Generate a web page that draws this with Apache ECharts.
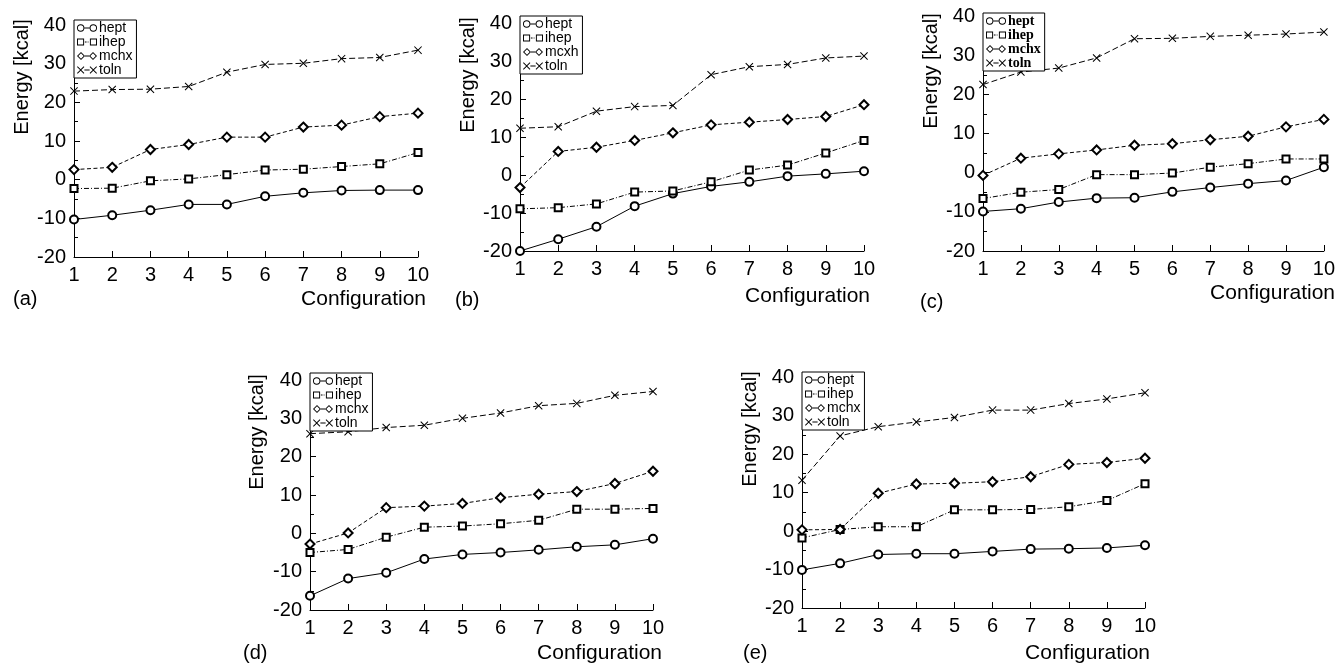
<!DOCTYPE html>
<html>
<head>
<meta charset="utf-8">
<title>Energy vs configuration</title>
<script src="https://cdn.jsdelivr.net/npm/echarts@6.0.0/dist/echarts.min.js"></script>
<style>
  html, body { margin: 0; padding: 0; background: #fff; }
  #chart_container { width: 1338px; height: 665px; }
</style>
</head>
<body>
<div id="chart_container"></div>
<script>
// data
var configurations = [1, 2, 3, 4, 5, 6, 7, 8, 9, 10];
var yTicks = [-20, -10, 0, 10, 20, 30, 40];
var panelLabels = ['(a)', '(b)', '(c)', '(d)', '(e)'];

var a_hept = [-10.3, -9.2, -7.9, -6.4, -6.4, -4.3, -3.4, -2.8, -2.7, -2.7];
var a_ihep = [-2.3, -2.2, -0.3, 0.2, 1.3, 2.5, 2.7, 3.4, 4.1, 7.0];
var a_mchx = [2.6, 3.2, 7.8, 9.1, 11.0, 11.0, 13.6, 14.1, 16.3, 17.2];
var a_toln = [22.9, 23.3, 23.4, 24.1, 27.8, 29.8, 30.1, 31.3, 31.6, 33.5];

var b_hept = [-20, -16.9, -13.6, -8.2, -4.9, -3.0, -1.8, -0.3, 0.3, 1.0];
var b_ihep = [-8.9, -8.6, -7.6, -4.5, -4.2, -1.8, 1.3, 2.6, 5.8, 9.1];
var b_mcxh = [-3.3, 6.2, 7.3, 9.1, 11.1, 13.2, 13.9, 14.6, 15.4, 18.5];
var b_toln = [12.3, 12.7, 16.8, 18.0, 18.3, 26.4, 28.5, 29.1, 30.8, 31.3];

var c_hept = [-9.9, -9.2, -7.5, -6.5, -6.4, -4.9, -3.8, -2.8, -2.0, 1.4];
var c_ihep = [-6.6, -5.0, -4.3, -0.5, -0.5, -0.1, 1.4, 2.3, 3.5, 3.5];
var c_mchx = [-0.7, 3.7, 4.8, 5.8, 7.0, 7.4, 8.4, 9.3, 11.7, 13.6];
var c_toln = [22.5, 25.7, 26.7, 29.3, 34.2, 34.3, 34.8, 35.1, 35.4, 35.9];

var d_hept = [-16.3, -11.8, -10.3, -6.7, -5.5, -5.0, -4.3, -3.5, -3.0, -1.4];
var d_ihep = [-5.0, -4.2, -1.0, 1.6, 1.9, 2.5, 3.4, 6.3, 6.3, 6.5];
var d_mchx = [-2.8, 0.1, 6.7, 7.1, 7.8, 9.3, 10.2, 10.9, 13.0, 16.2];
var d_toln = [26.0, 26.5, 27.6, 28.2, 30.0, 31.4, 33.3, 33.9, 36.0, 37.0];

var e_hept = [-10.1, -8.4, -6.1, -5.9, -5.9, -5.3, -4.7, -4.6, -4.4, -3.7];
var e_ihep = [-1.8, 0.4, 1.1, 1.1, 5.5, 5.5, 5.6, 6.3, 7.9, 12.3];
var e_mchx = [0.3, 0.4, 9.8, 12.2, 12.4, 12.8, 14.1, 17.3, 17.8, 18.9];
var e_toln = [13.2, 24.7, 27.1, 28.3, 29.5, 31.4, 31.4, 33.1, 34.3, 35.9];

var panels = [
    { names: ['hept', 'ihep', 'mchx', 'toln'], values: [a_hept, a_ihep, a_mchx, a_toln] },
    { names: ['hept', 'ihep', 'mcxh', 'toln'], values: [b_hept, b_ihep, b_mcxh, b_toln] },
    { names: ['hept', 'ihep', 'mchx', 'toln'], values: [c_hept, c_ihep, c_mchx, c_toln] },
    { names: ['hept', 'ihep', 'mchx', 'toln'], values: [d_hept, d_ihep, d_mchx, d_toln] },
    { names: ['hept', 'ihep', 'mchx', 'toln'], values: [e_hept, e_ihep, e_mchx, e_toln] }
];

// layout (pixels)
var grids = [
    { left: 74, top: 25, width: 344, height: 232 },
    { left: 520, top: 23, width: 344, height: 228 },
    { left: 983, top: 16, width: 343, height: 235 },
    { left: 310, top: 380, width: 343, height: 230 },
    { left: 802, top: 377, width: 343, height: 231 }
];
var legendTops = [20, 16, 13, 373, 372];
var yNamePos = [[22, 77], [468, 75], [931, 71], [257, 432], [750, 429]];
var xNamePos = [[426, 299], [870, 296], [1335, 293], [662, 653], [1150, 653]];
var letterPos = [[13, 299], [455, 300], [920, 302], [243, 653], [743, 653]];

var FONT = 'Liberation Sans, Arial, Helvetica, sans-serif';
var xMark = 'path://M0,0.9 L0.9,0 L5,4.1 L9.1,0 L10,0.9 L5.9,5 L10,9.1 L9.1,10 L5,5.9 L0.9,10 L0,9.1 L4.1,5 Z';

// legend icons drawn like the plot program: symbol - line - symbol
function ring(cx) {
    return 'M' + (cx - 3.5) + ',4 A3.5,3.5 0 1,1 ' + (cx + 3.5) + ',4 A3.5,3.5 0 1,1 ' + (cx - 3.5) + ',4 Z ' +
        'M' + (cx - 2.6) + ',4 A2.6,2.6 0 1,0 ' + (cx + 2.6) + ',4 A2.6,2.6 0 1,0 ' + (cx - 2.6) + ',4 Z ';
}
function box(cx) {
    return 'M' + (cx - 3.3) + ',0.7 L' + (cx + 3.3) + ',0.7 L' + (cx + 3.3) + ',7.3 L' + (cx - 3.3) + ',7.3 Z ' +
        'M' + (cx - 2.4) + ',1.6 L' + (cx - 2.4) + ',6.4 L' + (cx + 2.4) + ',6.4 L' + (cx + 2.4) + ',1.6 Z ';
}
function diamond(cx) {
    return 'M' + (cx - 4) + ',4 L' + cx + ',0 L' + (cx + 4) + ',4 L' + cx + ',8 Z ' +
        'M' + (cx - 2.7) + ',4 L' + cx + ',6.7 L' + (cx + 2.7) + ',4 L' + cx + ',1.3 Z ';
}
function cross(cx) {
    var l = cx - 3.5, r = cx + 3.5;
    return 'M' + l + ',1.1 L' + (l + 0.6) + ',0.5 L' + cx + ',3.4 L' + (r - 0.6) + ',0.5 L' + r + ',1.1 L' + (cx + 0.6) + ',4 L' +
        r + ',6.9 L' + (r - 0.6) + ',7.5 L' + cx + ',4.6 L' + (l + 0.6) + ',7.5 L' + l + ',6.9 L' + (cx - 0.6) + ',4 Z ';
}
function seg(x0, x1) {
    return 'M' + x0 + ',3.6 L' + x1 + ',3.6 L' + x1 + ',4.4 L' + x0 + ',4.4 Z ';
}
var legendIcons = [
    'path://' + ring(4) + seg(7.5, 12.5) + ring(16),
    'path://' + box(4) + seg(8, 9.6) + seg(10.6, 11.4) + box(16),
    'path://' + diamond(4) + seg(8, 12) + diamond(16),
    'path://' + cross(4) + seg(7.5, 12.5) + cross(16)
];

// one style per molecule: symbol, size, dash
var seriesStyles = [
    { symbol: 'emptyCircle', size: 8, dash: 'solid' },
    { symbol: 'emptyRect', size: 7, dash: [5, 2, 1, 2] },
    { symbol: 'emptyDiamond', size: 9, dash: [4, 2.5] },
    { symbol: xMark, size: 8, dash: [6, 3] }
];

var dom = document.getElementById('chart_container');
var myChart = echarts.init(dom, null, { renderer: 'canvas' });

var xAxes = [], yAxes = [], legends = [], series = [], graphics = [];

grids.forEach(function (g, i) {
    xAxes.push({
        gridIndex: i,
        type: 'value',
        min: 1,
        max: 10,
        interval: 1,
        axisLine: { show: true, onZero: false, lineStyle: { color: '#000', width: 1 } },
        axisTick: { show: true, inside: true, length: 6, lineStyle: { color: '#000' } },
        axisLabel: { color: '#000', fontSize: 20, fontFamily: FONT, margin: 8 },
        splitLine: { show: false }
    });
    yAxes.push({
        gridIndex: i,
        type: 'value',
        min: yTicks[0],
        max: yTicks[yTicks.length - 1],
        interval: 10,
        axisLine: { show: true, onZero: false, lineStyle: { color: '#000', width: 1 } },
        axisTick: { show: true, inside: true, length: 6, lineStyle: { color: '#000' } },
        minorTick: { show: true, splitNumber: 2, length: 4, lineStyle: { color: '#000' } },
        axisLabel: { color: '#000', fontSize: 20, fontFamily: FONT, margin: 8 },
        splitLine: { show: false },
        minorSplitLine: { show: false }
    });

    var p = panels[i];
    var serif = (i === 2);
    legends.push({
        orient: 'vertical',
        left: g.left,
        top: legendTops[i],
        z: 20,
        data: p.names.map(function (n, k) { return { name: n, icon: legendIcons[k] }; }),
        selectedMode: false,
        padding: [1, 4, 1, 3],
        itemGap: 0,
        itemWidth: 20,
        itemHeight: 8,
        itemStyle: { color: '#000', borderWidth: 0 },
        backgroundColor: '#fff',
        borderColor: '#000',
        borderWidth: 1,
        borderRadius: 0,
        textStyle: {
            color: '#000',
            fontSize: 14,
            lineHeight: 13,
            fontFamily: serif ? 'Liberation Serif, Times New Roman, serif' : FONT,
            fontWeight: serif ? 'bold' : 'normal',
            padding: [0, 0, 0, -3]
        }
    });

    p.values.forEach(function (vals, k) {
        var st = seriesStyles[k];
        series.push({
            name: p.names[k],
            type: 'line',
            xAxisIndex: i,
            yAxisIndex: i,
            data: configurations.map(function (c, j) { return [c, vals[j]]; }),
            symbol: st.symbol,
            symbolSize: st.size,
            showAllSymbol: true,
            lineStyle: { color: '#000', width: 1, type: st.dash },
            itemStyle: { color: '#000', borderColor: '#000', borderWidth: k === 3 ? 0 : 1 },
            emphasis: { disabled: true },
            z: 2
        });
    });

    graphics.push({
        type: 'text',
        x: yNamePos[i][0],
        y: yNamePos[i][1],
        rotation: Math.PI / 2,
        style: { text: 'Energy [kcal]', fill: '#000', font: '20px ' + FONT, align: 'center', verticalAlign: 'middle' }
    });
    graphics.push({
        type: 'text',
        x: xNamePos[i][0],
        y: xNamePos[i][1],
        style: { text: 'Configuration', fill: '#000', font: '21px ' + FONT, align: 'right', verticalAlign: 'middle' }
    });
    graphics.push({
        type: 'text',
        x: letterPos[i][0],
        y: letterPos[i][1],
        style: { text: panelLabels[i], fill: '#000', font: '20px ' + FONT, align: 'left', verticalAlign: 'middle' }
    });
});

var option = {
    backgroundColor: '#fff',
    animation: false,
    grid: grids,
    xAxis: xAxes,
    yAxis: yAxes,
    legend: legends,
    series: series,
    graphic: graphics
};

myChart.setOption(option, true);
</script>
</body>
</html>
